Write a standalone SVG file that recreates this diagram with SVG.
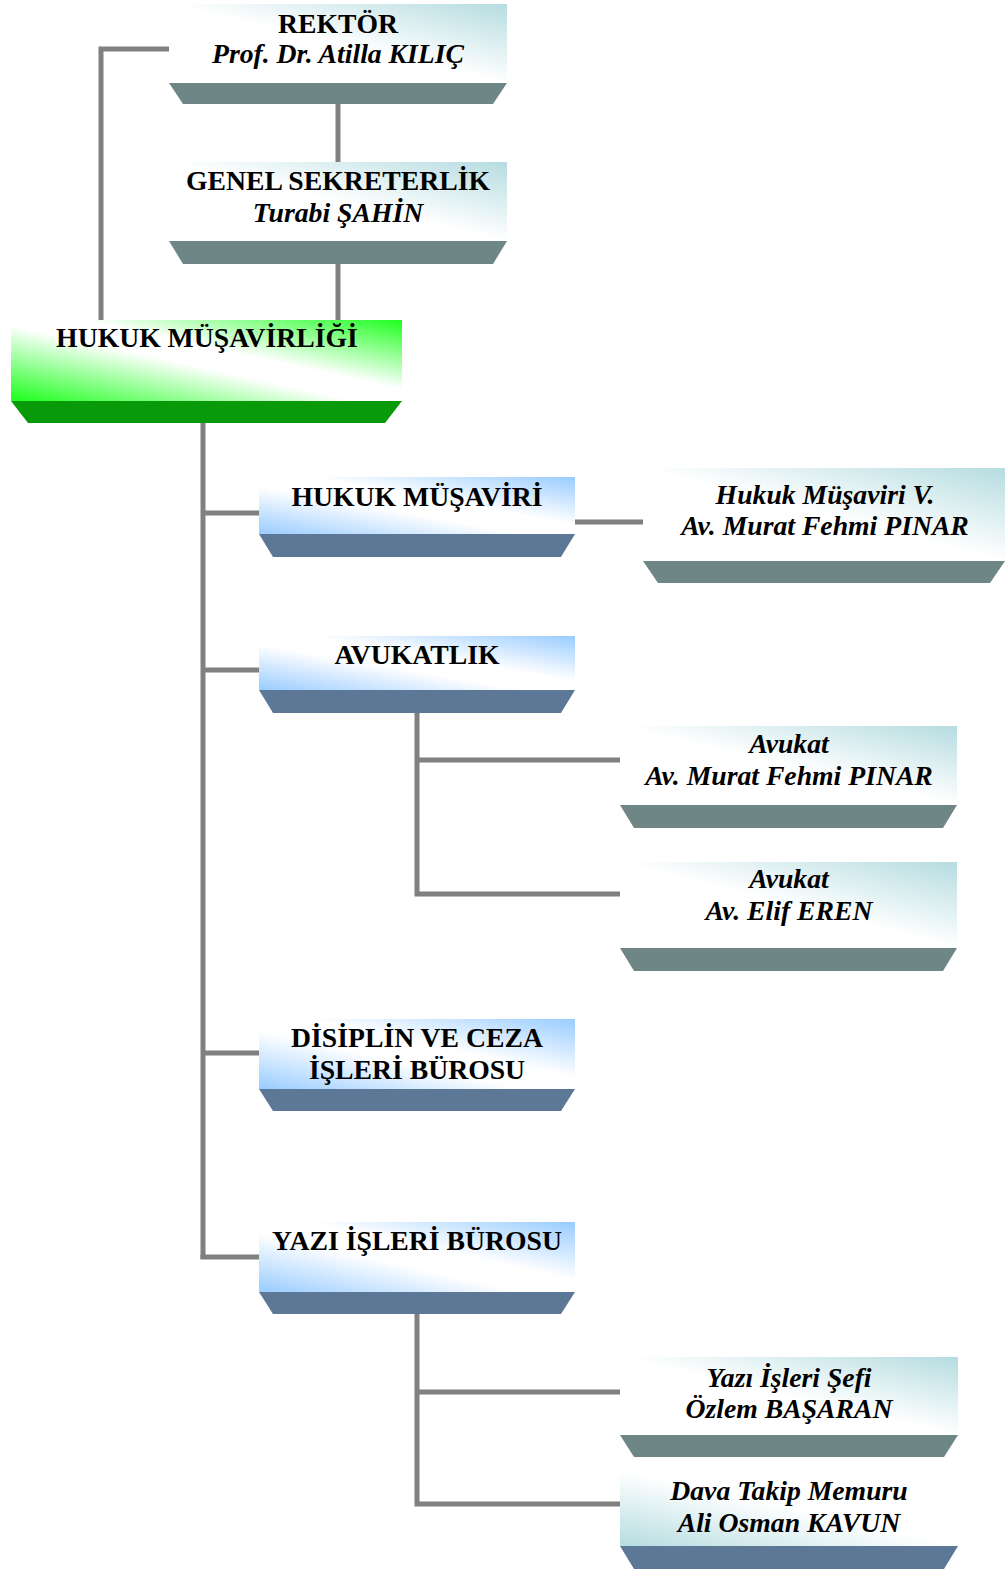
<svg xmlns="http://www.w3.org/2000/svg" width="1008" height="1569" viewBox="0 0 1008 1569">
<defs>
<linearGradient id="gTeal" x1="1" y1="0" x2="0" y2="1">
<stop offset="0" stop-color="#b5dce0"/>
<stop offset="0.5" stop-color="#ffffff"/>
<stop offset="1" stop-color="#ffffff"/>
</linearGradient>
<linearGradient id="gTealRev" x1="0" y1="1" x2="1" y2="0">
<stop offset="0" stop-color="#b5dce0"/>
<stop offset="0.5" stop-color="#ffffff"/>
<stop offset="1" stop-color="#ffffff"/>
</linearGradient>
<linearGradient id="gBlue" x1="1" y1="0" x2="0" y2="1">
<stop offset="0" stop-color="#99ccff"/>
<stop offset="0.42" stop-color="#ffffff"/>
<stop offset="0.58" stop-color="#ffffff"/>
<stop offset="1" stop-color="#99ccff"/>
</linearGradient>
<linearGradient id="gGreen" gradientUnits="userSpaceOnUse" x1="224" y1="282" x2="190" y2="438">
<stop offset="0" stop-color="#22ff22"/>
<stop offset="0.42" stop-color="#ffffff"/>
<stop offset="0.55" stop-color="#ffffff"/>
<stop offset="1" stop-color="#22ff22"/>
</linearGradient>
</defs>
<style>
.t{font-family:"Liberation Serif","Times New Roman",serif;font-size:27.7px;font-weight:bold;fill:#000;text-anchor:middle}
.i{font-style:italic}
.bt{fill:#6f8686}
.bb{fill:#5d7896}
.bg{fill:#089a08}
.c{fill:none;stroke:#808080;stroke-width:5}
</style>
<g id="connectors">
<polyline class="c" points="169,49 101,49 101,320"/>
<line class="c" x1="338" y1="104" x2="338" y2="162"/>
<line class="c" x1="338" y1="264" x2="338" y2="320"/>
<line class="c" x1="203" y1="423" x2="203" y2="1259"/>
<line class="c" x1="203" y1="513" x2="259" y2="513"/>
<line class="c" x1="203" y1="670" x2="259" y2="670"/>
<line class="c" x1="203" y1="1053" x2="259" y2="1053"/>
<line class="c" x1="200.5" y1="1257" x2="259" y2="1257"/>
<line class="c" x1="575" y1="522" x2="643" y2="522"/>
<polyline class="c" points="417,713 417,894 620,894"/>
<line class="c" x1="417" y1="760" x2="620" y2="760"/>
<polyline class="c" points="417,1314 417,1504 620,1504"/>
<line class="c" x1="417" y1="1392" x2="620" y2="1392"/>
</g>
<g id="rektor">
<rect x="169" y="4" width="338" height="79" fill="url(#gTeal)"/>
<polygon class="bt" points="169,83 507,83 493,104 183,104"/>
<text class="t" x="338" y="33">REKTÖR</text>
<text class="t i" x="338" y="63">Prof. Dr. Atilla KILIÇ</text>
</g>
<g id="genel-sekreterlik">
<rect x="169" y="162" width="338" height="79" fill="url(#gTeal)"/>
<polygon class="bt" points="169,241 507,241 493,264 183,264"/>
<text class="t" x="338" y="190">GENEL SEKRETERLİK</text>
<text class="t i" x="338" y="222">Turabi ŞAHİN</text>
</g>
<g id="hukuk-musavirligi">
<rect x="11" y="320" width="391" height="81" fill="url(#gGreen)"/>
<polygon class="bg" points="11,401 402,401 385,423 28,423"/>
<text class="t" x="207" y="347">HUKUK MÜŞAVİRLİĞİ</text>
</g>
<g id="hukuk-musaviri">
<rect x="259" y="477" width="316" height="57" fill="url(#gBlue)"/>
<polygon class="bb" points="259,534 575,534 561,557 273,557"/>
<text class="t" x="417" y="506">HUKUK MÜŞAVİRİ</text>
</g>
<g id="hukuk-musaviri-v">
<rect x="643" y="468" width="362" height="93" fill="url(#gTeal)"/>
<polygon class="bt" points="643,561 1005,561 990,583 658,583"/>
<text class="t i" x="825" y="504">Hukuk Müşaviri V.</text>
<text class="t i" x="825" y="535">Av. Murat Fehmi PINAR</text>
</g>
<g id="avukatlik">
<rect x="259" y="636" width="316" height="54" fill="url(#gBlue)"/>
<polygon class="bb" points="259,690 575,690 561,713 273,713"/>
<text class="t" x="417" y="664">AVUKATLIK</text>
</g>
<g id="avukat-1">
<rect x="620" y="726" width="337" height="79" fill="url(#gTeal)"/>
<polygon class="bt" points="620,805 957,805 943,828 634,828"/>
<text class="t i" x="789" y="753">Avukat</text>
<text class="t i" x="789" y="785">Av. Murat Fehmi PINAR</text>
</g>
<g id="avukat-2">
<rect x="620" y="862" width="337" height="86" fill="url(#gTeal)"/>
<polygon class="bt" points="620,948 957,948 943,971 634,971"/>
<text class="t i" x="789" y="888">Avukat</text>
<text class="t i" x="789" y="920">Av. Elif EREN</text>
</g>
<g id="disiplin-ceza">
<rect x="259" y="1019" width="316" height="70" fill="url(#gBlue)"/>
<polygon class="bb" points="259,1089 575,1089 561,1111 273,1111"/>
<text class="t" x="417" y="1047">DİSİPLİN VE CEZA</text>
<text class="t" x="417" y="1079">İŞLERİ BÜROSU</text>
</g>
<g id="yazi-isleri-burosu">
<rect x="259" y="1222" width="316" height="70" fill="url(#gBlue)"/>
<polygon class="bb" points="259,1292 575,1292 561,1314 273,1314"/>
<text class="t" x="417" y="1250">YAZI İŞLERİ BÜROSU</text>
</g>
<g id="yazi-isleri-sefi">
<rect x="620" y="1357" width="338" height="78" fill="url(#gTeal)"/>
<polygon class="bt" points="620,1435 958,1435 944,1457 634,1457"/>
<text class="t i" x="789" y="1387">Yazı İşleri Şefi</text>
<text class="t i" x="789" y="1418">Özlem BAŞARAN</text>
</g>
<g id="dava-takip">
<rect x="620" y="1470" width="338" height="76" fill="url(#gTealRev)"/>
<polygon class="bb" points="620,1546 958,1546 944,1569 634,1569"/>
<text class="t i" x="789" y="1500">Dava Takip Memuru</text>
<text class="t i" x="789" y="1532">Ali Osman KAVUN</text>
</g>
</svg>
